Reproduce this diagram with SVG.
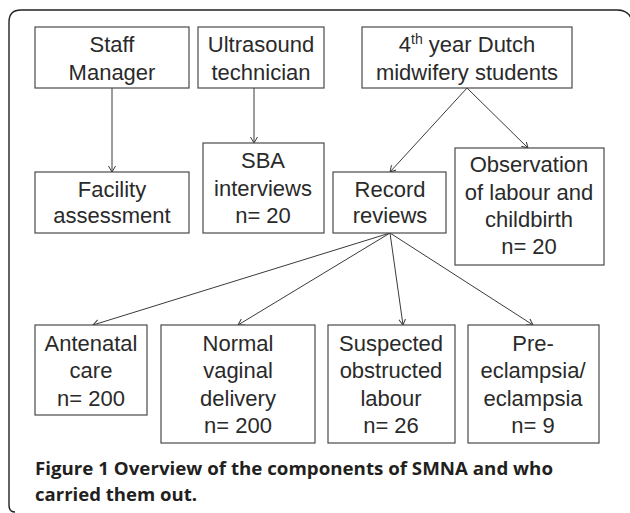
<svg xmlns="http://www.w3.org/2000/svg" width="630" height="513" viewBox="0 0 630 513">
<style>
.box{fill:#fff;stroke:#4a4a4a;stroke-width:1.2}
.t{font-family:"Liberation Sans",Arial,sans-serif;font-size:22px;fill:#2a2a2a;text-anchor:middle}
.c{stroke:#3a3a3a;stroke-width:1;fill:none;marker-end:url(#ah)}
.cap{font-family:"Open Sans","Liberation Sans",sans-serif;font-weight:bold;font-size:18px;fill:#231f20}
</style>
<defs>
<marker id="ah" markerWidth="8" markerHeight="8" refX="6" refY="3.5" orient="auto" markerUnits="userSpaceOnUse">
<path d="M0,0 L6,3.5 L0,7" fill="none" stroke="#3a3a3a" stroke-width="1"/>
</marker>
</defs>
<rect width="630" height="513" fill="#fff"/>
<path d="M15 512 Q9 512 9 505 L9 22 Q9 10 21 10 L617 10 Q630 10 632 22" fill="none" stroke="#222" stroke-width="1.4"/>
<g id="connectors">
<line class="c" x1="112" y1="88" x2="112" y2="172"/>
<line class="c" x1="254" y1="88" x2="254" y2="143"/>
<line class="c" x1="467" y1="88" x2="390" y2="172"/>
<line class="c" x1="467" y1="88" x2="528" y2="148"/>
<line class="c" x1="390" y1="233" x2="93" y2="325"/>
<line class="c" x1="390" y1="233" x2="238" y2="325"/>
<line class="c" x1="390" y1="233" x2="403" y2="325"/>
<line class="c" x1="390" y1="233" x2="533" y2="325"/>
</g>
<g id="staff"><rect class="box" x="35" y="27" width="154" height="61"/><text class="t" x="112" y="52">Staff</text><text class="t" x="112" y="80">Manager</text></g>
<g id="ultrasound"><rect class="box" x="198" y="27" width="126" height="61"/><text class="t" x="261" y="52">Ultrasound</text><text class="t" x="261" y="80">technician</text></g>
<g id="students"><rect class="box" x="362" y="27" width="210" height="61"/><text class="t" x="467" y="52">4<tspan font-size="14" dy="-8">th</tspan><tspan dy="8"> year Dutch</tspan></text><text class="t" x="467" y="80">midwifery students</text></g>
<g id="facility"><rect class="box" x="35" y="172" width="154" height="61"/><text class="t" x="112" y="197">Facility</text><text class="t" x="112" y="223">assessment</text></g>
<g id="sba"><rect class="box" x="203" y="143" width="121" height="90"/><text class="t" x="263" y="168">SBA</text><text class="t" x="263" y="196">interviews</text><text class="t" x="263" y="223">n= 20</text></g>
<g id="record"><rect class="box" x="333" y="172" width="113" height="61"/><text class="t" x="390" y="197">Record</text><text class="t" x="390" y="223">reviews</text></g>
<g id="observation"><rect class="box" x="455" y="148" width="149" height="117"/><text class="t" x="529" y="172">Observation</text><text class="t" x="529" y="200">of labour and</text><text class="t" x="529" y="227">childbirth</text><text class="t" x="529" y="254">n= 20</text></g>
<g id="antenatal"><rect class="box" x="35" y="325" width="112" height="90"/><text class="t" x="91" y="351">Antenatal</text><text class="t" x="91" y="378">care</text><text class="t" x="91" y="406">n= 200</text></g>
<g id="normal"><rect class="box" x="161" y="325" width="154" height="118"/><text class="t" x="238" y="351">Normal</text><text class="t" x="238" y="378">vaginal</text><text class="t" x="238" y="406">delivery</text><text class="t" x="238" y="433">n= 200</text></g>
<g id="suspected"><rect class="box" x="328" y="325" width="127" height="118"/><text class="t" x="391" y="351">Suspected</text><text class="t" x="391" y="378">obstructed</text><text class="t" x="391" y="406">labour</text><text class="t" x="391" y="433">n= 26</text></g>
<g id="preeclampsia"><rect class="box" x="468" y="325" width="131" height="118"/><text class="t" x="533" y="351">Pre-</text><text class="t" x="533" y="378">eclampsia/</text><text class="t" x="533" y="406">eclampsia</text><text class="t" x="533" y="433">n= 9</text></g>
<text class="cap" x="35" y="475" textLength="518" lengthAdjust="spacingAndGlyphs">Figure 1 Overview of the components of SMNA and who</text>
<text class="cap" x="35" y="501" textLength="162" lengthAdjust="spacingAndGlyphs">carried them out.</text>
</svg>
